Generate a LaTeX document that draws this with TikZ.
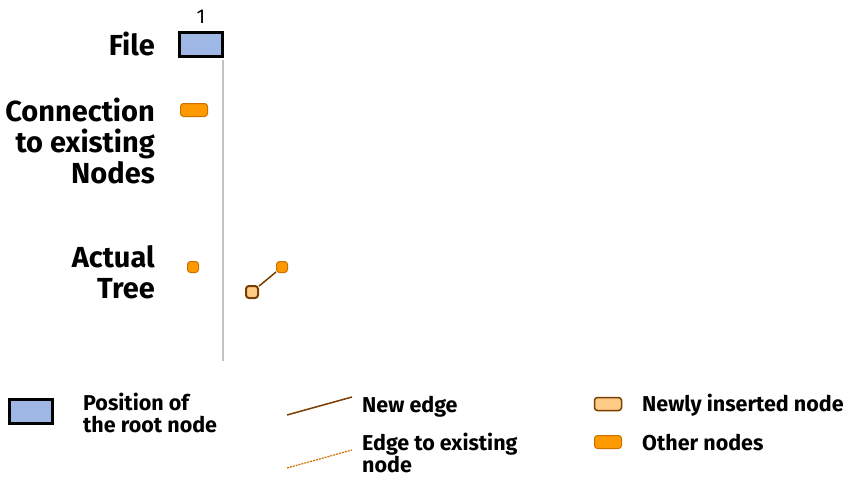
\documentclass[tikz,border=0pt]{standalone}
\usepackage{fontspec}
\setmainfont{Fira Sans}
\usepackage{xcolor}
\usetikzlibrary{positioning, calc}

\definecolor{rootblue}{RGB}{158,183,229}
\definecolor{nodeorange}{RGB}{255,153,0}
\definecolor{nodeborder}{RGB}{204,112,0}
\definecolor{newfill}{RGB}{255,204,136}
\definecolor{edgebrown}{RGB}{122,63,0}
\definecolor{filegray}{RGB}{195,195,195}

\begin{document}
\begin{tikzpicture}[x=1pt, y=-1pt,
    rowlabel/.style={anchor=east, align=right, inner sep=0pt, font=\bfseries\fontsize{29}{31}\selectfont},
    legendtext/.style={anchor=west, align=left, inner sep=0pt, font=\bfseries\fontsize{21.5}{22.5}\selectfont},
    rootbox/.style={draw=black, fill=rootblue, line width=3pt, minimum width=43pt, minimum height=24pt, inner sep=0pt},
    othernode/.style={draw=nodeborder, fill=nodeorange, line width=1pt, rounded corners=3pt, inner sep=0pt},
    newnode/.style={draw=edgebrown, fill=newfill, line width=2pt, rounded corners=3pt, inner sep=0pt},
    newedge/.style={draw=edgebrown, line width=1.5pt},
    oldedge/.style={draw=nodeborder, line width=1.2pt, dash pattern=on 2pt off 1pt}]

    \useasboundingbox (0,0) rectangle (851,477);

    % row labels
    \node[rowlabel] (file) at (155,44) {File};
    \node[rowlabel] (conn) at (155,141) {Connection\\to existing\\Nodes};
    \node[rowlabel] (tree) at (155,272) {Actual\\Tree};

    % the file column
    \node[rootbox] (root) at (201,44.5) {};
    \node[font=\fontsize{20}{20}\selectfont, inner sep=0pt] (num) at (201,17) {1};
    \draw[filegray, line width=2pt] (root.south east) ++(-1,1.5) -- ++(0,301);

    \node[othernode, minimum width=27pt, minimum height=13pt] (c1) at (194,110) {};

    % the tree
    \node[othernode, minimum size=11pt] (t1) at (193,267) {};
    \node[othernode, minimum size=11pt] (t2) at (282,267) {};
    \node[newnode, minimum size=12pt] (t3) at (252,292) {};
    \draw[newedge] (t3) -- (t2);

    % legend
    \node[rootbox] (lroot) at (31,411) {};
    \node[legendtext] (lrootText) at (83,413) {Position of\\the root node};

    \coordinate (newA) at (287,415);
    \coordinate (newB) at (352,397);
    \draw[newedge] (newA) -- (newB);
    \node[legendtext] (newText) at (362,407) {New edge};

    \coordinate (oldA) at (287,468);
    \coordinate (oldB) at (352,450);
    \draw[oldedge] (oldA) -- (oldB);
    \node[legendtext] (oldText) at (362,453) {Edge to existing\\node};

    \node[newnode, line width=1.5pt, minimum width=27pt, minimum height=13pt] (lnew) at (608,404) {};
    \node[legendtext] (lnewText) at (642,405) {Newly inserted node};
    \node[othernode, minimum width=27pt, minimum height=13pt] (lother) at (608,442) {};
    \node[legendtext] (lotherText) at (642,443) {Other nodes};
\end{tikzpicture}
\end{document}
